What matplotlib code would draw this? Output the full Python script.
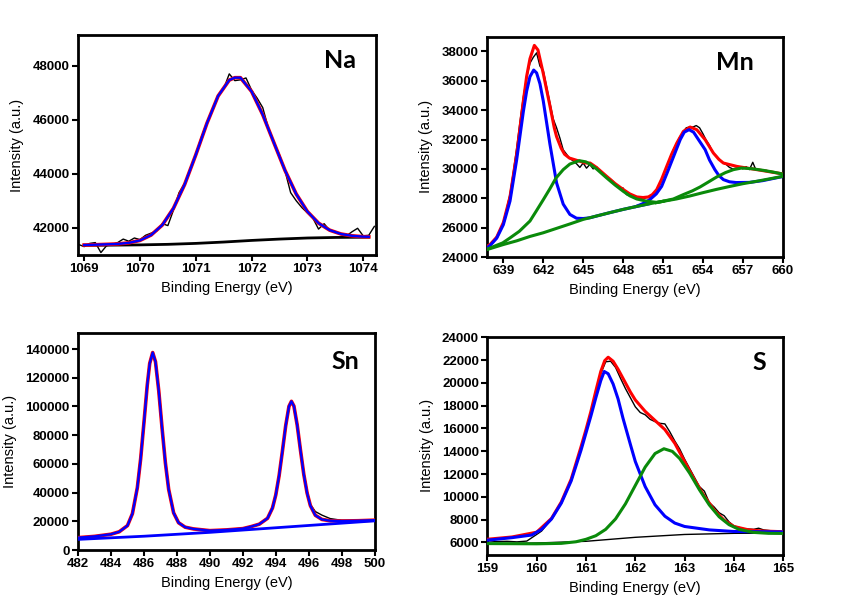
import matplotlib
matplotlib.use("Agg")
import matplotlib.pyplot as plt
import numpy as np

plt.rcParams['font.family'] = ['Liberation Sans', 'DejaVu Sans']

# ---------------- Na 1s ----------------
na_raw_x = np.round(np.arange(1068.9, 1074.21, 0.1), 2)
na_raw = [41380, 41300, 41420, 41450, 41080, 41330, 41380, 41450, 41580, 41500,
          41620, 41560, 41720, 41800, 41880, 42150, 42080, 42650, 43300, 43650,
          44150, 44700, 45350, 45900, 46350, 46900, 47150, 47700, 47450, 47480,
          47550, 47100, 46800, 46450, 45700, 45150, 44700, 44100, 43300, 43000,
          42750, 42550, 42350, 41950, 42150, 41900, 41850, 41750, 41700, 41850,
          41980, 41700, 41720, 42050]
na_fit_x = [1069.0, 1069.2, 1069.4, 1069.6, 1069.8, 1070.0, 1070.2, 1070.4, 1070.6,
            1070.8, 1071.0, 1071.2, 1071.4, 1071.6, 1071.7, 1071.8, 1072.0, 1072.2,
            1072.4, 1072.6, 1072.8, 1073.0, 1073.2, 1073.4, 1073.6, 1073.8, 1074.0, 1074.1]
na_fit = [41360, 41370, 41385, 41400, 41440, 41530, 41730, 42100, 42720,
          43600, 44700, 45870, 46880, 47470, 47560, 47560, 47050, 46190,
          45150, 44120, 43250, 42600, 42170, 41910, 41770, 41700, 41670, 41665]
na_base_x = [1069.0, 1069.5, 1070.0, 1070.5, 1071.0, 1071.5, 1072.0, 1072.5, 1073.0, 1073.5, 1074.1]
na_base = [41350, 41355, 41365, 41385, 41420, 41470, 41530, 41580, 41620, 41640, 41650]

# ---------------- Mn 2p ----------------
mn_raw_x = np.round(np.arange(637.75, 660.01, 0.25), 2)
mn_raw = [24700, 24850, 25000, 25400, 25700, 26400, 27300, 28300, 29800,
          31400, 33200, 34900, 36200,
          37200, 37600, 37900, 37000,
          36700, 35600, 34500, 33400,
          32800, 32100, 31300, 31000,
          30700, 30550, 30350, 30100,
          30400, 30050, 30300, 30000,
          30150, 29850, 29700, 29500,
          29350, 29150, 28850, 28650,
          28700, 28250, 28200, 28100,
          27950, 28050, 27950, 28050,
          28050, 28300, 28500, 28900,
          29450, 30050, 30650, 31250,
          31700, 32150, 32500, 32800,
          32850, 32850, 32950, 32800,
          32400, 31950, 31600, 31100,
          30900, 30650, 30400, 30300,
          30100, 30000, 30050, 30100,
          30000, 30150, 29950, 30450,
          29900, 29950, 29850, 29900,
          29800, 29750, 29700, 29700,
          29650]
mn_env_x = [637.75, 638.0, 638.5, 639.0, 639.5, 640.0, 640.5, 640.75, 641.0, 641.33,
            641.6, 641.8, 642.0, 642.25, 642.5, 642.83, 643.0, 643.34, 643.6, 643.96,
            644.6, 645.2, 645.52, 646.0, 646.77, 647.4, 648.02, 648.5, 649.03, 649.5,
            649.9, 650.2, 650.53, 650.9, 651.28, 651.65, 652.04, 652.53, 653.04, 653.54,
            654.17, 654.79, 655.2, 655.54, 656.55, 658.05, 659.93, 660.0]
mn_env = [24720, 24850, 25350, 26350, 28100, 31000, 34600, 36300, 37500, 38410,
          38100, 37300, 36500, 35400, 34300, 32790, 32200, 31420, 31000, 30740,
          30560, 30400, 30400, 30100, 29490, 29000, 28590, 28300, 28090, 28050,
          28090, 28250, 28590, 29300, 30170, 31000, 31760, 32550, 32850, 32670,
          31990, 31080, 30650, 30400, 30170, 29950, 29670, 29660]
mn_p1_x = [637.75, 638.0, 638.5, 639.0, 639.5, 640.0, 640.5, 640.75, 641.0, 641.28,
           641.5, 641.75, 642.0, 642.5, 643.0, 643.5, 644.0, 644.5, 645.0, 645.5,
           646.0, 647.0, 648.0, 649.0, 650.0]
mn_p1 = [24610, 24780, 25280, 26200, 27810, 30620, 33890, 35290, 36280, 36730,
         36535, 35800, 34630, 31690, 29050, 27600, 26900, 26640, 26620, 26670,
         26790, 27020, 27240, 27440, 27630]
mn_p2_x = [649.0, 649.5, 650.0, 650.5, 650.9, 651.3, 651.8, 652.3, 652.6, 652.96,
           653.3, 653.7, 654.17, 654.5, 654.9, 655.2, 655.54, 656.0, 656.5, 657.5,
           658.5, 660.0]
mn_p2 = [27450, 27640, 27900, 28300, 28810, 29700, 30850, 32000, 32500, 32670,
         32500, 31950, 31310, 30600, 29950, 29550, 29270, 29120, 29070, 29080,
         29200, 29480]
mn_s1_x = [637.75, 638.5, 638.95, 639.5, 640.2, 641.0, 641.46, 642.0, 642.5, 642.96,
           643.5, 644.0, 644.7, 645.2, 645.52, 646.0, 646.77, 647.4, 648.02, 648.5,
           649.03, 649.78, 650.53, 651.0]
mn_s1 = [24520, 24800, 24960, 25300, 25750, 26450, 27110, 27900, 28650, 29380,
         29950, 30330, 30560, 30480, 30320, 30000, 29380, 28900, 28470, 28170,
         27950, 27800, 27720, 27790]
mn_s2_x = [650.5, 651.0, 651.78, 652.53, 653.2, 653.79, 654.4, 655.04, 655.7, 656.3,
           656.92, 657.7, 658.55, 659.3, 660.0]
mn_s2 = [27700, 27800, 27950, 28250, 28500, 28770, 29100, 29450, 29750, 29950,
         30060, 30010, 29900, 29780, 29650]
mn_base_x = [637.75, 639, 640, 641, 642, 643, 644, 645, 646, 647, 648, 649, 650,
             651, 652, 653, 654, 655, 656, 657, 658, 659, 660]
mn_base = [24500, 24850, 25100, 25400, 25650, 25950, 26250, 26560, 26790, 27020,
           27240, 27440, 27630, 27790, 27950, 28150, 28380, 28600, 28800, 28990,
           29150, 29320, 29490]

# ---------------- Sn 3d ----------------
sn_x = [482, 483, 484, 484.5, 485, 485.3, 485.6, 485.8, 486.0, 486.2, 486.35, 486.53,
        486.7, 486.9, 487.1, 487.3, 487.5, 487.8, 488.1, 488.5, 489, 490, 491, 492,
        492.5, 493, 493.5, 493.8, 494.0, 494.2, 494.4, 494.6, 494.8, 494.95, 495.1,
        495.3, 495.5, 495.7, 495.9, 496.1, 496.4, 496.8, 497.3, 498, 499, 500]
sn_fit = [8600, 9500, 11000, 12700, 17000, 25300, 43500, 63500, 88700, 114800, 130000, 137600,
          131200, 110800, 84900, 60800, 42300, 25900, 19000, 15900, 14700, 13500, 14000, 14900,
          16300, 18000, 22100, 29300, 38400, 51700, 68700, 86500, 100100, 103600, 100300,
          87000, 69400, 52700, 39700, 30900, 24200, 21300, 20400, 20200, 20400, 20800]
sn_raw = [8700, 9400, 11100, 12600, 17100, 25200, 43800, 63300, 88900, 114500, 130300, 137000,
          131000, 111200, 85300, 61100, 42600, 26600, 19700, 16000, 14600, 13400, 14100, 15000,
          16200, 18100, 22000, 29400, 38600, 51900, 68900, 86700, 100000, 103000, 100500,
          87600, 70300, 54000, 41200, 31800, 26800, 24300, 21900, 20700, 20400, 20700]
sn_base_x = [482, 486, 490, 494, 500]
sn_base = [7400, 9600, 12300, 15500, 20300]

# ---------------- S 2p ----------------
s_raw_x = [159.0, 159.2, 159.4, 159.6, 159.8, 160.0, 160.1, 160.3, 160.5, 160.7, 160.9,
           161.0, 161.1, 161.2, 161.3, 161.4, 161.5, 161.6, 161.7, 161.8, 161.9, 162.0,
           162.1, 162.2, 162.3, 162.4, 162.5, 162.6, 162.7, 162.8, 162.9, 163.0, 163.1,
           163.2, 163.3, 163.4, 163.5, 163.6, 163.7, 163.8, 163.9, 164.0, 164.2, 164.4,
           164.5, 164.6, 164.8, 165.0]
s_raw = [6150, 6080, 6100, 6050, 6120, 6700, 7000, 8050, 9500, 11500, 14300,
         15800, 17400, 19100, 20800, 21850, 21900, 21350, 20400, 19500, 18700, 17900,
         17400, 17200, 16800, 16600, 16450, 16400, 15700, 14900, 14200, 13300, 12500,
         11700, 10900, 10500, 9500, 9100, 8600, 8350, 7800, 7450, 7200, 7150,
         7250, 7100, 7000, 6950]
s_env_x = [159.0, 159.5, 160.0, 160.3, 160.5, 160.7, 160.9, 161.0, 161.1, 161.2, 161.3,
           161.38, 161.45, 161.55, 161.65, 161.75, 161.9, 162.0, 162.2, 162.4, 162.6,
           162.8, 163.0, 163.2, 163.4, 163.6, 163.8, 164.0, 164.3, 164.6, 165.0]
s_env = [6280, 6480, 6900, 8100, 9550, 11550, 14400, 15900, 17500, 19300, 21000,
         21950, 22250, 21900, 21200, 20400, 19200, 18500, 17500, 16700, 15900,
         14700, 13100, 11500, 10050, 8850, 7950, 7400, 7100, 7000, 6940]
s_p1_x = [159.0, 159.5, 159.9, 160.1, 160.3, 160.5, 160.7, 160.9, 161.0, 161.1, 161.2,
          161.3, 161.37, 161.45, 161.55, 161.65, 161.75, 161.9, 162.0, 162.2, 162.4,
          162.6, 162.8, 163.0, 163.5, 164.0, 165.0]
s_p1 = [6200, 6420, 6650, 7150, 8050, 9450, 11400, 14100, 15600, 17100, 18700,
        20200, 21000, 20800, 19900, 18600, 16900, 14600, 13100, 10900, 9300,
        8300, 7700, 7400, 7100, 6960, 6920]
s_p2_x = [159.0, 160.0, 160.5, 160.8, 161.0, 161.2, 161.4, 161.6, 161.8, 162.0, 162.2,
          162.4, 162.58, 162.75, 162.9, 163.1, 163.3, 163.5, 163.7, 163.9, 164.1,
          164.4, 164.7, 165.0]
s_p2 = [5900, 5880, 5920, 6060, 6275, 6590, 7150, 8065, 9385, 11000, 12610,
        13800, 14220, 13990, 13360, 12090, 10620, 9290, 8250, 7560, 7150,
        6880, 6800, 6790]
s_base_x = [159, 160, 161, 162, 163, 164, 165]
s_base = [5880, 5950, 6100, 6450, 6700, 6800, 6820]

RED, BLUE, GREEN = '#ff0000', '#0000ff', '#0a8a0a'

fig = plt.figure(figsize=(8.49, 6.07), dpi=100)
ax_na = fig.add_axes([0.0919, 0.5799, 0.3510, 0.3624])
ax_mn = fig.add_axes([0.5733, 0.5766, 0.3486, 0.3629])
ax_sn = fig.add_axes([0.0919, 0.0939, 0.3494, 0.3570])
ax_s = fig.add_axes([0.5740, 0.0857, 0.3486, 0.3596])


def style(ax, xlim, ylim, xticks, yticks, name, pos):
    ax.set_xlim(*xlim)
    ax.set_ylim(*ylim)
    ax.set_xticks(xticks)
    ax.set_yticks(yticks)
    for s in ax.spines.values():
        s.set_linewidth(2.0)
    ax.tick_params(direction='out', length=4, width=1.5, labelsize=9.5, pad=2,
                   top=False, right=False)
    plt.setp(ax.get_xticklabels() + ax.get_yticklabels(), fontweight='bold')
    ax.set_xlabel('Binding Energy (eV)', fontsize=10.5, labelpad=4)
    ax.set_ylabel('Intensity (a.u.)', fontsize=10.5, labelpad=6)
    ax.text(pos[0], pos[1], name, transform=ax.transAxes, ha='center', va='center',
            fontsize=18, fontweight='bold', family='Lato')


# Na
ax_na.plot(na_raw_x, na_raw, color='black', lw=1.0, zorder=2)
ax_na.plot(na_base_x, na_base, color='black', lw=2.0, zorder=3)
ax_na.plot(na_fit_x, na_fit, color=RED, lw=2.6, zorder=4)
ax_na.plot(na_fit_x, na_fit, color=BLUE, lw=1.7, zorder=5)
style(ax_na, (1068.89, 1074.23), (40990, 49140), range(1069, 1075),
      range(42000, 48001, 2000), 'Na', (0.88, 0.885))

# Mn
ax_mn.plot(mn_raw_x, mn_raw, color='black', lw=1.0, zorder=2)
ax_mn.plot(mn_env_x, mn_env, color=RED, lw=2.2, zorder=3)
ax_mn.plot(mn_p1_x, mn_p1, color=BLUE, lw=2.2, zorder=4)
ax_mn.plot(mn_p2_x, mn_p2, color=BLUE, lw=2.2, zorder=4)
ax_mn.plot(mn_s1_x, mn_s1, color=GREEN, lw=2.2, zorder=5)
ax_mn.plot(mn_s2_x, mn_s2, color=GREEN, lw=2.2, zorder=5)
ax_mn.plot(mn_base_x, mn_base, color=GREEN, lw=2.2, zorder=5)
style(ax_mn, (637.75, 660), (24000, 39000), range(639, 661, 3),
      range(24000, 38001, 2000), 'Mn', (0.84, 0.885))

# Sn
ax_sn.plot(sn_x, sn_raw, color='black', lw=1.0, zorder=2)
ax_sn.plot(sn_x, sn_fit, color=RED, lw=2.6, zorder=3)
ax_sn.plot(sn_x, sn_fit, color=BLUE, lw=1.7, zorder=4)
ax_sn.plot(sn_base_x, sn_base, color=BLUE, lw=2.0, zorder=4)
style(ax_sn, (482, 500), (0, 151000), range(482, 501, 2),
      range(0, 140001, 20000), 'Sn', (0.90, 0.868))

# S
ax_s.plot(s_raw_x, s_raw, color='black', lw=1.0, zorder=2)
ax_s.plot(s_base_x, s_base, color='black', lw=1.0, zorder=2)
ax_s.plot(s_env_x, s_env, color=RED, lw=2.2, zorder=3)
ax_s.plot(s_p1_x, s_p1, color=BLUE, lw=2.2, zorder=4)
ax_s.plot(s_p2_x, s_p2, color=GREEN, lw=2.2, zorder=5)
style(ax_s, (159, 165), (4900, 24050), range(159, 166),
      range(6000, 24001, 2000), 'S', (0.92, 0.88))

fig.savefig('out.png', dpi=100)
